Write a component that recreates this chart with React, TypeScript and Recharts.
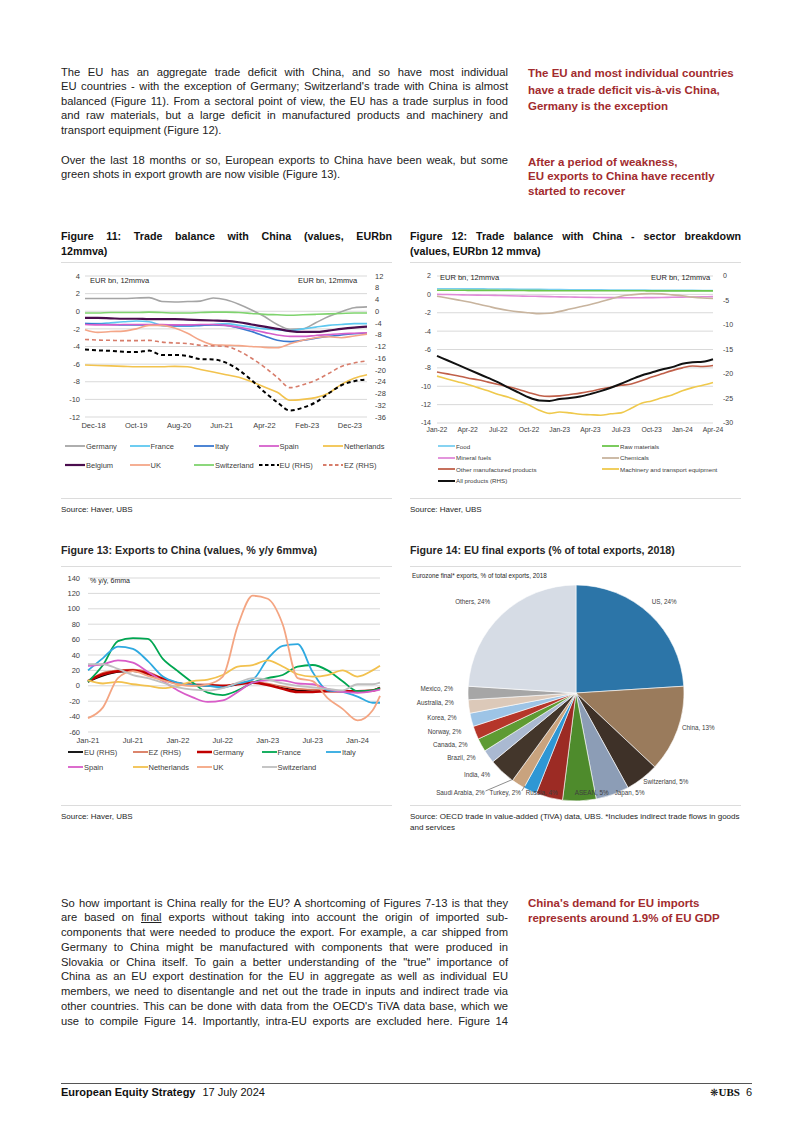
import React from "react";
import { LineChart, Line, XAxis, YAxis, CartesianGrid, PieChart, Pie, Cell } from "recharts";

const FONT = '"Liberation Sans", Arial, Helvetica, sans-serif';
const RED = "#A22B2E";
const MON = ["Jan", "Feb", "Mar", "Apr", "May", "Jun", "Jul", "Aug", "Sep", "Oct", "Nov", "Dec"];

// "Mar-21" -> running month number
const monthIndex = (s: string) => {
  const [m, y] = s.split("-");
  return (2000 + Number(y)) * 12 + MON.indexOf(m);
};
const monthLabel = (v: number) => `${MON[v % 12]}-${String(Math.floor(v / 12) % 100).padStart(2, "0")}`;

// ---------- Figure 11: trade balance with China ----------
const F11_DATES = ["Oct-18", "Jan-19", "Apr-19", "Jul-19", "Oct-19", "Jan-20", "Apr-20", "Jul-20", "Oct-20", "Jan-21", "Apr-21", "Jul-21",
  "Oct-21", "Jan-22", "Apr-22", "Jul-22", "Oct-22", "Jan-23", "Apr-23", "Jul-23", "Oct-23", "Jan-24", "Apr-24"];
const F11_TICKS = ["Dec-18", "Oct-19", "Aug-20", "Jun-21", "Apr-22", "Feb-23", "Dec-23"];
const F11_LEFT_TICKS = [-12, -10, -8, -6, -4, -2, 0, 2, 4];
const F11_RIGHT_TICKS = [-36, -32, -28, -24, -20, -16, -12, -8, -4, 0, 4, 8, 12];
const F11_GERMANY = [1.45, 1.45, 1.45, 1.45, 1.5, 1.55, 1.1, 1.05, 1.1, 1.15, 1.5, 1.3, 0.8, 0.15, -0.6, -1.5, -2.05, -2.0, -1.3, -0.6, -0.05, 0.4, 0.5];
const F11_FRANCE = [-1.4, -1.4, -1.3, -1.2, -1.1, -1.2, -1.6, -1.7, -1.7, -1.6, -1.5, -1.4, -1.6, -1.8, -2.0, -2.1, -2.2, -2.0, -1.8, -1.6, -1.5, -1.4, -1.4];
const F11_ITALY = [-1.4, -1.45, -1.5, -1.55, -1.55, -1.55, -1.6, -1.65, -1.65, -1.6, -1.55, -1.6, -1.9, -2.3, -2.8, -3.3, -3.45, -3.3, -3.05, -2.85, -2.7, -2.55, -2.5];
const F11_SPAIN = [-1.5, -1.55, -1.55, -1.5, -1.5, -1.5, -1.5, -1.55, -1.55, -1.5, -1.5, -1.6, -1.8, -2.1, -2.4, -2.7, -2.85, -2.85, -2.75, -2.65, -2.55, -2.5, -2.45];
const F11_NETHERLANDS = [-6.1, -6.15, -6.2, -6.25, -6.3, -6.3, -6.3, -6.25, -6.3, -6.6, -6.9, -7.2, -7.5, -8.0, -8.6, -9.2, -10.1, -10.0, -9.8, -9.3, -8.3, -7.6, -7.2];
const F11_BELGIUM = [-0.75, -0.75, -0.8, -0.85, -0.85, -0.9, -0.9, -0.9, -0.95, -1.0, -1.05, -1.1, -1.25, -1.5, -1.75, -2.0, -2.25, -2.35, -2.35, -2.2, -2.0, -1.85, -1.75];
const F11_UK = [-2.1, -2.4, -2.3, -2.25, -2.0, -1.6, -1.6, -1.9, -2.5, -3.3, -3.8, -3.85, -3.9, -4.0, -4.1, -4.15, -3.7, -3.3, -3.0, -2.9, -3.0, -2.8, -2.6];
const F11_SWITZERLAND = [-0.2, -0.2, -0.15, -0.15, -0.15, -0.1, -0.15, -0.2, -0.2, -0.15, -0.1, -0.1, -0.15, -0.25, -0.35, -0.4, -0.45, -0.4, -0.35, -0.3, -0.25, -0.2, -0.2];
const F11_EU = [-13, -13.3, -13.5, -13.8, -13.9, -13.4, -14.9, -14.9, -15.2, -16.3, -16.4, -17.5, -20, -23.5, -27.5, -31, -33.8, -32.8, -31, -28, -25.2, -23.8, -23.2];
const F11_EZ = [-9.6, -9.8, -9.9, -10, -10, -9.9, -10.5, -10.8, -11, -11.6, -11.8, -12, -13.5, -16, -19, -22.5, -26, -25, -23.5, -21.2, -18.8, -17.6, -16.9];

// ---------- Figure 12: sector breakdown ----------
const F12_DATES = ["Jan-22", "Feb-22", "Mar-22", "Apr-22", "May-22", "Jun-22", "Jul-22", "Aug-22", "Sep-22", "Oct-22", "Nov-22", "Dec-22",
  "Jan-23", "Feb-23", "Mar-23", "Apr-23", "May-23", "Jun-23", "Jul-23", "Aug-23", "Sep-23", "Oct-23", "Nov-23", "Dec-23",
  "Jan-24", "Feb-24", "Mar-24", "Apr-24"];
const F12_TICKS = ["Jan-22", "Apr-22", "Jul-22", "Oct-22", "Jan-23", "Apr-23", "Jul-23", "Oct-23", "Jan-24", "Apr-24"];
const F12_LEFT_TICKS = [-14, -12, -10, -8, -6, -4, -2, 0, 2];
const F12_RIGHT_TICKS = [-30, -25, -20, -15, -10, -5, 0];
const F12_FOOD = [0.62, 0.62, 0.61, 0.6, 0.6, 0.59, 0.58, 0.57, 0.56, 0.55, 0.54, 0.53, 0.52, 0.51, 0.5, 0.5, 0.49, 0.48, 0.47, 0.46, 0.46, 0.45, 0.44, 0.44, 0.43, 0.43, 0.42, 0.42];
const F12_RAW = [0.45, 0.45, 0.45, 0.44, 0.44, 0.43, 0.43, 0.42, 0.42, 0.41, 0.41, 0.4, 0.4, 0.4, 0.4, 0.4, 0.39, 0.39, 0.39, 0.39, 0.39, 0.38, 0.38, 0.38, 0.38, 0.38, 0.38, 0.38];
const F12_FUELS = [0, -0.02, -0.04, -0.06, -0.08, -0.1, -0.12, -0.15, -0.18, -0.2, -0.22, -0.25, -0.27, -0.29, -0.31, -0.33, -0.34, -0.35, -0.36, -0.36, -0.36, -0.35, -0.34, -0.32, -0.3, -0.28, -0.26, -0.25];
const F12_CHEMICALS = [-0.2, -0.4, -0.6, -0.8, -1.05, -1.3, -1.55, -1.75, -1.9, -2.0, -2.1, -2.05, -1.85, -1.6, -1.35, -1.1, -0.8, -0.5, -0.2, -0.05, 0.05, 0.1, 0.05, -0.05, -0.15, -0.3, -0.4, -0.45];
const F12_OTHER = [-8.45, -8.65, -8.85, -9.1, -9.3, -9.55, -9.8, -10.05, -10.35, -10.7, -11.0, -11.1, -11.05, -10.9, -10.75, -10.55, -10.3, -10.1, -9.9, -9.75, -9.4, -9.0, -8.65, -8.3, -8.0, -7.8, -7.85, -7.75];
const F12_MACHINERY = [-8.9, -9.2, -9.5, -9.8, -10.15, -10.5, -10.9, -11.2, -11.6, -12.05, -12.6, -12.95, -12.8, -12.9, -13.05, -13.1, -13.15, -13.0, -12.9, -12.4, -11.85, -11.6, -11.25, -10.95, -10.5, -10.15, -9.9, -9.6];
const F12_ALL = [-16.3, -17.2, -18.1, -19.0, -19.9, -20.8, -21.7, -22.8, -23.8, -24.8, -25.4, -25.5, -25.1, -24.9, -24.6, -24.1, -23.5, -22.8, -22.0, -21.1, -20.3, -19.7, -19.1, -18.6, -17.9, -17.6, -17.5, -17.0];

// ---------- Figure 13: exports to China, % y/y ----------
const F13_DATES = ["Jan-21", "Mar-21", "May-21", "Jul-21", "Sep-21", "Nov-21", "Jan-22", "Mar-22", "May-22", "Jul-22", "Sep-22", "Nov-22",
  "Jan-23", "Mar-23", "May-23", "Jul-23", "Sep-23", "Nov-23", "Jan-24", "Mar-24", "Apr-24"];
const F13_TICKS = ["Jan-21", "Jul-21", "Jan-22", "Jul-22", "Jan-23", "Jul-23", "Jan-24"];
const F13_Y_TICKS = [-60, -40, -20, 0, 20, 40, 60, 80, 100, 120, 140];
const F13_EU = [5, 13, 18, 19, 15, 8, 3, 1, 0, -1, 2, 4, 2, -3, -6, -7, -7, -7, -8, -6, -2];
const F13_EZ = [6, 17, 20, 21, 18, 10, 4, 2, 1, 0, 3, 5, 3, -1, -4, -5, -6, -7, -8, -7, -3];
const F13_GERMANY = [6, 15, 19, 20, 16, 9, 3, 1, 1, 0, 2, 4, 1, -4, -8, -8, -7, -7, -7, -6, -3];
const F13_FRANCE = [5, 27, 58, 62, 61, 35, 19, 4, -9, -12, -6, 4, 10, 14, 25, 27, 20, 6, -7, -6, -3];
const F13_ITALY = [20, 36, 51, 48, 32, 12, 4, 1, 0, -2, 3, 8, 35, 52, 54, 18, -6, -8, -14, -22, -22];
const F13_SPAIN = [26, 28, 33, 30, 18, 6, -6, -15, -21, -19, -8, 4, 7, 7, 3, 2, -4, -8, -9, -7, -5];
const F13_NETHERLANDS = [7, 3, 5, 2, 0, -3, 0, 6, 8, 14, 25, 27, 33, 25, 15, 12, 14, 20, 12, 20, 26];
const F13_UK = [-42, -28, 10, 19, 13, 7, 2, 0, 2, 12, 78, 117, 113, 80, 10, 6, -16, -30, -45, -32, -13];
const F13_SWITZERLAND = [28, 28, 22, 14, 10, 4, -2, -5, -6, -3, 4, 10, 8, 3, 0, -2, -4, -6, 2, 2, 4];

// ---------- Figure 14: EU final exports ----------
const PIE_NAMES = ["US", "China", "Switzerland", "Japan", "ASEAN", "Russia", "Turkey", "Saudi Arabia", "India", "Brazil",
  "Canada", "Norway", "Korea", "Australia", "Mexico", "Others"];
const PIE_VALUES = [24, 13, 5, 5, 5, 4, 2, 2, 4, 2, 2, 2, 2, 2, 2, 24];
const PIE_COLORS = ["#2C75A8", "#9A7B5C", "#3E3128", "#8C9DB6", "#4E8B2C", "#9C2B24", "#2F97D4", "#C9A37E", "#43362B", "#AAB9D1",
  "#5E9B33", "#B5362A", "#9DC4E6", "#DCC9B9", "#A6A6A6", "#D6DCE5"];

const F11_SERIES = [
  { name: "Germany", values: F11_GERMANY, color: "#A5A5A5", axis: "l" },
  { name: "France", values: F11_FRANCE, color: "#5DC8F0", axis: "l" },
  { name: "Italy", values: F11_ITALY, color: "#3A78D0", axis: "l" },
  { name: "Spain", values: F11_SPAIN, color: "#D55FCB", axis: "l" },
  { name: "Netherlands", values: F11_NETHERLANDS, color: "#F2C34E", axis: "l" },
  { name: "Belgium", values: F11_BELGIUM, color: "#4A0D4E", axis: "l", width: 2.2 },
  { name: "UK", values: F11_UK, color: "#F4A688", axis: "l" },
  { name: "Switzerland", values: F11_SWITZERLAND, color: "#7FD36E", axis: "l" },
  { name: "EU (RHS)", values: F11_EU, color: "#000000", axis: "r", dashed: true, width: 2 },
  { name: "EZ (RHS)", values: F11_EZ, color: "#D77C6A", axis: "r", dashed: true },
];

const F12_SERIES = [
  { name: "Food", values: F12_FOOD, color: "#7ACFF0", axis: "l" },
  { name: "Raw materials", values: F12_RAW, color: "#6DC64C", axis: "l" },
  { name: "Mineral fuels", values: F12_FUELS, color: "#E08AD8", axis: "l" },
  { name: "Chemicals", values: F12_CHEMICALS, color: "#C8B49E", axis: "l" },
  { name: "Other manufactured products", values: F12_OTHER, color: "#C0604A", axis: "l" },
  { name: "Machinery and transport equipment", values: F12_MACHINERY, color: "#EFC94C", axis: "l" },
  { name: "All products (RHS)", values: F12_ALL, color: "#111111", axis: "r", width: 2 },
];

const F13_SERIES = [
  { name: "EU (RHS)", values: F13_EU, color: "#000000" },
  { name: "EZ (RHS)", values: F13_EZ, color: "#D9785C" },
  { name: "Germany", values: F13_GERMANY, color: "#C00000", width: 2.5 },
  { name: "France", values: F13_FRANCE, color: "#00A651", width: 1.8 },
  { name: "Italy", values: F13_ITALY, color: "#2EA9E0", width: 1.8 },
  { name: "Spain", values: F13_SPAIN, color: "#D85CC8", width: 1.8 },
  { name: "Netherlands", values: F13_NETHERLANDS, color: "#F2C14E", width: 1.8 },
  { name: "UK", values: F13_UK, color: "#F4A582", width: 1.8 },
  { name: "Switzerland", values: F13_SWITZERLAND, color: "#BFBFBF", width: 1.8 },
];

const buildRows = (dates: string[], series: { name: string; values: number[] }[]) =>
  dates.map((d, i) => {
    const row: Record<string, number> = { t: monthIndex(d) };
    series.forEach((s) => (row[s.name] = s.values[i]));
    return row;
  });

const fig11Data = buildRows(F11_DATES, F11_SERIES);
const fig12Data = buildRows(F12_DATES, F12_SERIES);
const fig13Data = buildRows(F13_DATES, F13_SERIES);

// pie geometry inside its own svg
const PIE_CX = 166;
const PIE_CY = 123;
const PIE_R = 108;
const PIE_FONT = 6.3;

// rough Arial text width
const textWidth = (s: string, size: number) =>
  s.split("").reduce((w, ch) => {
    if (ch === " " || ch === "," || ch === "." ) return w + 0.278;
    if (ch === "%") return w + 0.889;
    if (/[0-9]/.test(ch)) return w + 0.556;
    if (/[A-Z]/.test(ch)) return w + 0.68;
    if (/[iljt]/.test(ch)) return w + 0.25;
    return w + 0.52;
  }, 0) * size;

// label placement: radial, bottom labels kept on one row, crowded ones pushed aside (left ones get a leader line)
const layoutPieLabels = () => {
  const total = PIE_VALUES.reduce((a, b) => a + b, 0);
  let acc = 0;
  const out = PIE_VALUES.map((v, i) => {
    const th = ((acc + v / 2) / total) * 2 * Math.PI;
    acc += v;
    const s = Math.sin(th);
    const c = Math.cos(th);
    const text = `${PIE_NAMES[i]}, ${v}%`;
    let y = PIE_CY - (PIE_R + 10) * c;
    const bottom = y > PIE_CY + PIE_R - 12;
    if (bottom) y = PIE_CY + PIE_R - 4;
    return {
      text,
      x: PIE_CX + (PIE_R + 10) * s,
      y,
      w: textWidth(text, PIE_FONT),
      anchor: s < 0 && s > -0.3 && c < 0 ? "middle" : s >= 0 ? "start" : "end",
      bottom,
      leader: false,
      ex: PIE_CX + PIE_R * s,
      ey: PIE_CY - PIE_R * c,
    };
  });
  // left side of the bottom row, walking clockwise
  let edge = Infinity;
  out.forEach((L) => {
    if (!L.bottom) return;
    if (L.anchor === "middle") edge = L.x - L.w / 2;
    else if (L.anchor === "end") {
      L.x = Math.min(L.x, edge - 3);
      edge = L.x - L.w;
      L.leader = true;
    }
  });
  // right side of the bottom row, walking anticlockwise
  let right = -Infinity;
  [...out].reverse().forEach((L) => {
    if (!L.bottom || L.anchor !== "start") return;
    L.x = Math.max(L.x, right + 6);
    right = L.x + L.w;
  });
  return out;
};
const PIE_LAYOUT = layoutPieLabels();

const renderPieLabel = (p: any) => {
  const L = PIE_LAYOUT[p.index];
  return (
    <g key={`pl-${p.index}`}>
      {L.leader && <line x1={L.x + 1} y1={L.y - 1} x2={L.ex} y2={L.ey} stroke="#404040" strokeWidth={0.6} />}
      <text x={L.x} y={L.y} textAnchor={L.anchor} dominantBaseline="central" fontSize={PIE_FONT} fill="#404040" fontFamily={FONT}>
        {L.text}
      </text>
    </g>
  );
};

type LegendItem = { name: string; color: string; dashed?: boolean; width?: number };

const LegendGrid = ({ items, left, top, cols, colW, rowH, lineW, size }: {
  items: LegendItem[]; left: number; top: number; cols: number; colW: number; rowH: number; lineW: number; size: number;
}) => (
  <div style={{ position: "absolute", left, top, fontSize: size, color: "#404040", fontFamily: FONT }}>
    {items.map((it, i) => (
      <div key={it.name} style={{ position: "absolute", left: (i % cols) * colW, top: Math.floor(i / cols) * rowH, whiteSpace: "nowrap", display: "flex", alignItems: "center", height: 10 }}>
        <svg width={lineW} height={6} style={{ marginRight: 1 }}>
          <line x1={0} y1={3} x2={lineW} y2={3} stroke={it.color} strokeWidth={it.width ?? 1.8} strokeDasharray={it.dashed ? "3.5 2.5" : undefined} />
        </svg>
        <span>{it.name}</span>
      </div>
    ))}
  </div>
);

const TextLines = ({ lines, left, top, width, lh, size, weight = 400, color = "#222", justify = true, justifyLast = false }: {
  lines: React.ReactNode[]; left: number; top: number; width: number; lh: number; size: number; weight?: number; color?: string; justify?: boolean; justifyLast?: boolean;
}) => (
  <div style={{ position: "absolute", left, top, width, fontSize: size, fontWeight: weight, color, lineHeight: `${lh}px`, fontFamily: FONT }}>
    {lines.map((ln, i) => {
      const j = justify && (i < lines.length - 1 || justifyLast);
      return (
        <div key={i} style={{ height: lh, textAlign: j ? "justify" : "left", textAlignLast: j ? "justify" : "left" }}>{ln}</div>
      );
    })}
  </div>
);

const Rule = ({ left, top, width, color = "#DCDCDC", h = 1 }: { left: number; top: number; width: number; color?: string; h?: number }) => (
  <div style={{ position: "absolute", left, top, width, height: h, background: color }} />
);

const Note = ({ left, top, size, children, bold = false }: { left: number; top: number; size: number; children: React.ReactNode; bold?: boolean }) => (
  <div style={{ position: "absolute", left, top, fontSize: size, color: "#262626", fontFamily: FONT, fontWeight: bold ? 700 : 400, whiteSpace: "nowrap" }}>{children}</div>
);

const tickStyle = (size: number) => ({ fontSize: size, fill: "#404040", fontFamily: FONT });

const P1 = [
  "The EU has an aggregate trade deficit with China, and so have most individual",
  "EU countries - with the exception of Germany; Switzerland's trade with China is almost",
  "balanced (Figure 11). From a sectoral point of view, the EU has a trade surplus in food",
  "and raw materials, but a large deficit in manufactured products and machinery and",
  "transport equipment (Figure 12).",
];
const P2 = [
  "Over the last 18 months or so, European exports to China have been weak, but some",
  "green shots in export growth are now visible (Figure 13).",
];
const P3: React.ReactNode[] = [
  "So how important is China really for the EU? A shortcoming of Figures 7-13 is that they",
  <>are based on <u>final</u> exports without taking into account the origin of imported sub-</>,
  "components that were needed to produce the export. For example, a car shipped from",
  "Germany to China might be manufactured with components that were produced in",
  "Slovakia or China itself. To gain a better understanding of the \"true\" importance of",
  "China as an EU export destination for the EU in aggregate as well as individual EU",
  "members, we need to disentangle and net out the trade in inputs and indirect trade via",
  "other countries. This can be done with data from the OECD's TiVA data base, which we",
  "use to compile Figure 14. Importantly, intra-EU exports are excluded here. Figure 14",
];

export default function App() {
  return (
    <div style={{ position: "absolute", left: 0, top: 0, width: 802, height: 1134, background: "#fff", fontFamily: FONT, overflow: "hidden" }}>
      {/* body text */}
      <TextLines lines={P1} left={61} top={64.5} width={447} lh={14.5} size={11.2} />
      <TextLines lines={P2} left={61} top={152.5} width={447} lh={14.5} size={11.2} />
      <TextLines lines={["The EU and most individual countries", "have a trade deficit vis-à-vis China,", "Germany is the exception"]}
        left={528} top={65} width={230} lh={16.5} size={11.5} weight={700} color={RED} justify={false} />
      <TextLines lines={["After a period of weakness,", "EU exports to China have recently", "started to recover"]}
        left={528} top={154.5} width={230} lh={14.5} size={11.5} weight={700} color={RED} justify={false} />

      {/* figure titles */}
      <TextLines lines={["Figure 11: Trade balance with China (values, EURbn", "12mmva)"]} left={61} top={228.5} width={331} lh={15} size={10.7} weight={700} color="#111" />
      <TextLines lines={["Figure 12: Trade balance with China - sector breakdown", "(values, EURbn 12 mmva)"]} left={410} top={228.5} width={331} lh={15} size={10.7} weight={700} color="#111" />

      <Rule left={61} top={262} width={331} />
      <Rule left={410} top={262} width={331} />

      {/* Figure 11 */}
      <div style={{ position: "absolute", left: 61, top: 262 }}>
        <LineChart width={335} height={173} data={fig11Data} margin={{ top: 14, right: 4, bottom: 0, left: 0 }}>
          <CartesianGrid yAxisId="l" vertical={false} stroke="#D9D9D9" />
          <XAxis dataKey="t" type="number" domain={["dataMin", "dataMax"]} ticks={F11_TICKS.map(monthIndex)} tickFormatter={monthLabel}
            axisLine={false} tickLine={false} tickSize={0} tickMargin={6} height={18} tick={tickStyle(7.5)} interval={0} />
          <YAxis yAxisId="l" domain={[-12, 4]} ticks={F11_LEFT_TICKS} width={24} axisLine={false} tickLine={false} tickSize={0} tickMargin={5} tick={tickStyle(7.5)} interval={0} />
          <YAxis yAxisId="r" orientation="right" domain={[-36, 12]} ticks={F11_RIGHT_TICKS} width={25} axisLine={false} tickLine={false} tickSize={0} tickMargin={8} tick={{ ...tickStyle(7.5), textAnchor: "start" }} interval={0} />
          {F11_SERIES.map((s) => (
            <Line key={s.name} yAxisId={s.axis} dataKey={s.name} type="monotone" dot={false} stroke={s.color} strokeWidth={s.width ?? 1.6}
              strokeDasharray={s.dashed ? "4 3" : undefined} isAnimationActive={false} />
          ))}
        </LineChart>
      </div>
      <Note left={90} top={276} size={7.5}>EUR bn, 12mmva</Note>
      <Note left={298} top={276} size={7.5}>EUR bn, 12mmva</Note>
      <LegendGrid items={F11_SERIES} left={65} top={441} cols={5} colW={64.5} rowH={19} lineW={20} size={7.5} />

      {/* Figure 12 */}
      <div style={{ position: "absolute", left: 410, top: 262 }}>
        <LineChart width={335} height={177} data={fig12Data} margin={{ top: 14, right: 4, bottom: 0, left: 0 }}>
          <CartesianGrid yAxisId="l" vertical={false} stroke="#D9D9D9" />
          <XAxis dataKey="t" type="number" domain={["dataMin", "dataMax"]} ticks={F12_TICKS.map(monthIndex)} tickFormatter={monthLabel}
            axisLine={false} tickLine={false} tickSize={0} tickMargin={4} height={16} tick={tickStyle(6.8)} interval={0} />
          <YAxis yAxisId="l" domain={[-14, 2]} ticks={F12_LEFT_TICKS} width={27} axisLine={false} tickLine={false} tickSize={0} tickMargin={6} tick={tickStyle(7)} interval={0} />
          <YAxis yAxisId="r" orientation="right" domain={[-30, 0]} ticks={F12_RIGHT_TICKS} width={28} axisLine={false} tickLine={false} tickSize={0} tickMargin={10} tick={{ ...tickStyle(7), textAnchor: "start" }} interval={0} />
          {F12_SERIES.map((s) => (
            <Line key={s.name} yAxisId={s.axis} dataKey={s.name} type="monotone" dot={false} stroke={s.color} strokeWidth={s.width ?? 1.6} isAnimationActive={false} />
          ))}
        </LineChart>
      </div>
      <Note left={440} top={273} size={7.5}>EUR bn, 12mmva</Note>
      <Note left={651} top={273} size={7.5}>EUR bn, 12mmva</Note>
      <LegendGrid items={F12_SERIES} left={438} top={441} cols={2} colW={164} rowH={11.5} lineW={17} size={6.2} />

      <Rule left={61} top={498} width={331} />
      <Rule left={410} top={498} width={331} />
      <Note left={61} top={505} size={8}>Source: Haver, UBS</Note>
      <Note left={410} top={505} size={8}>Source: Haver, UBS</Note>

      {/* lower titles */}
      <Note left={61} top={544} size={10.7} bold>Figure 13: Exports to China (values, % y/y 6mmva)</Note>
      <Note left={410} top={544} size={10.7} bold>Figure 14: EU final exports (% of total exports, 2018)</Note>
      <Rule left={61} top={566} width={331} />
      <Rule left={410} top={566} width={331} />

      {/* Figure 13 */}
      <div style={{ position: "absolute", left: 61, top: 565 }}>
        <LineChart width={330} height={183} data={fig13Data} margin={{ top: 13, right: 11, bottom: 0, left: 0 }}>
          <CartesianGrid vertical={false} stroke="#D9D9D9" />
          <XAxis dataKey="t" type="number" domain={["dataMin", "dataMax"]} ticks={F13_TICKS.map(monthIndex)} tickFormatter={monthLabel}
            axisLine={false} tickLine={false} tickSize={0} tickMargin={6} height={16} tick={tickStyle(7.5)} interval={0} />
          <YAxis domain={[-60, 140]} ticks={F13_Y_TICKS} width={27} axisLine={false} tickLine={false} tickSize={0} tickMargin={8} tick={tickStyle(7.5)} interval={0} />
          {F13_SERIES.map((s) => (
            <Line key={s.name} dataKey={s.name} type="monotone" dot={false} stroke={s.color} strokeWidth={s.width ?? 1.6} isAnimationActive={false} />
          ))}
        </LineChart>
      </div>
      <Note left={90} top={577} size={7}>% y/y, 6mma</Note>
      <LegendGrid items={F13_SERIES} left={68} top={747} cols={5} colW={64.5} rowH={15} lineW={15} size={7.5} />

      {/* Figure 14 */}
      <Note left={412} top={571.5} size={6.3}>Eurozone final* exports, % of total exports, 2018</Note>
      <div style={{ position: "absolute", left: 405, top: 565 }}>
        <PieChart width={340} height={240}>
          <Pie data={PIE_NAMES.map((n, i) => ({ name: n, value: PIE_VALUES[i] }))} dataKey="value" cx={PIE_CX} cy={PIE_CY} outerRadius={PIE_R}
            startAngle={90} endAngle={-270} stroke="#ffffff" strokeWidth={0.6} label={renderPieLabel} labelLine={false} isAnimationActive={false}>
            {PIE_VALUES.map((_, i) => (
              <Cell key={`c-${i}`} fill={PIE_COLORS[i]} />
            ))}
          </Pie>
        </PieChart>
      </div>

      <Rule left={61} top={805} width={331} />
      <Rule left={410} top={805} width={331} />
      <Note left={61} top={811.5} size={8}>Source: Haver, UBS</Note>
      <div style={{ position: "absolute", left: 410, top: 811, width: 335, fontSize: 8, lineHeight: "11px", color: "#262626", fontFamily: FONT }}>
        Source: OECD trade in value-added (TiVA) data, UBS. *Includes indirect trade flows in goods and services
      </div>

      {/* closing paragraph */}
      <TextLines lines={P3} left={61} top={895.5} width={447} lh={14.75} size={11.2} justifyLast />
      <TextLines lines={["China's demand for EU imports", "represents around 1.9% of EU GDP"]}
        left={528} top={895.5} width={230} lh={15.5} size={11.5} weight={700} color={RED} justify={false} />

      {/* footer */}
      <Rule left={61} top={1083} width={691} color="#555" />
      <div style={{ position: "absolute", left: 61, top: 1086, fontSize: 11, color: "#111", fontFamily: FONT, whiteSpace: "nowrap" }}>
        <b>European Equity Strategy</b>
        <span style={{ marginLeft: 7 }}>17 July 2024</span>
      </div>
      <div style={{ position: "absolute", right: 50, top: 1086, fontSize: 11, color: "#111", whiteSpace: "nowrap" }}>
        <span style={{ fontFamily: '"DejaVu Sans"', fontSize: 10 }}>❋</span>
        <span style={{ fontFamily: '"Liberation Serif"', fontWeight: 700 }}>UBS</span>
        <span style={{ marginLeft: 6, fontFamily: FONT }}>6</span>
      </div>
    </div>
  );
}
